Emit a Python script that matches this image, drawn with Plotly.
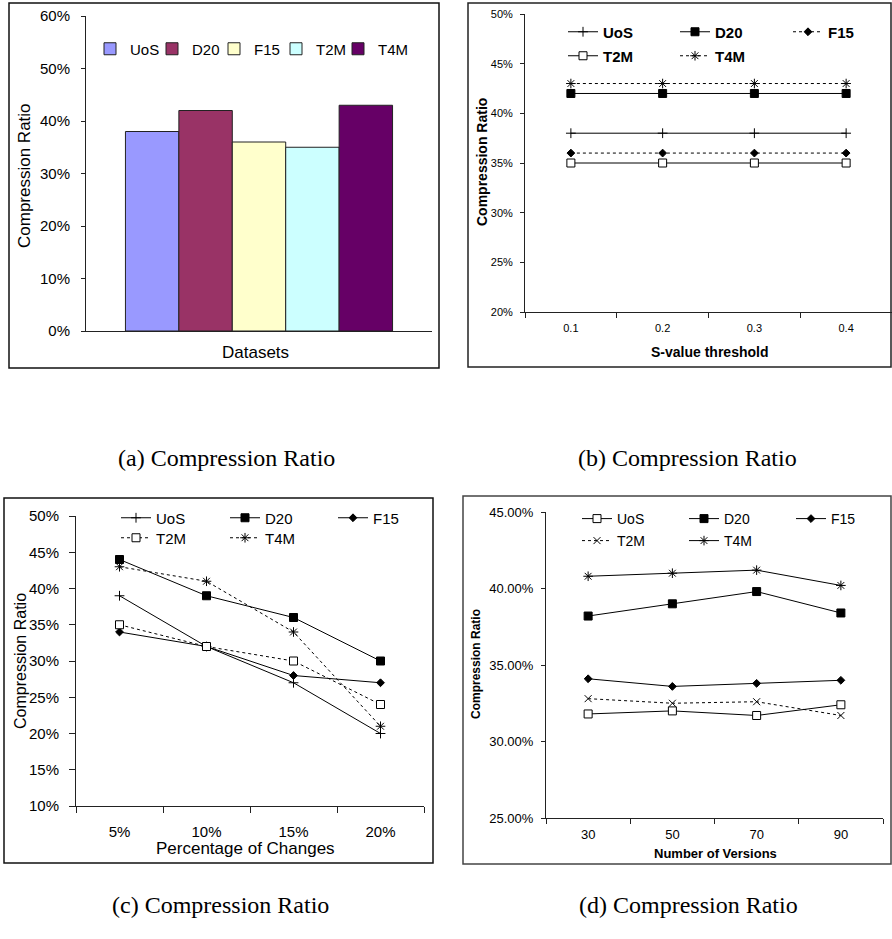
import plotly.graph_objects as go

W, H = 892, 939

# ---------------- data ----------------
series = ["UoS", "D20", "F15", "T2M", "T4M"]

# (a) compression ratio per dataset
ratio_a = [0.38, 0.42, 0.36, 0.35, 0.43]
bar_colors = ["#9999FF", "#993366", "#FFFFCC", "#CCFFFF", "#660066"]

# (b) S-value threshold
thresholds = ["0.1", "0.2", "0.3", "0.4"]
ratio_b = {
    "UoS": [0.38, 0.38, 0.38, 0.38],
    "D20": [0.42, 0.42, 0.42, 0.42],
    "F15": [0.36, 0.36, 0.36, 0.36],
    "T2M": [0.35, 0.35, 0.35, 0.35],
    "T4M": [0.43, 0.43, 0.43, 0.43],
}

# (c) percentage of changes
changes = ["5%", "10%", "15%", "20%"]
ratio_c = {
    "UoS": [0.39, 0.32, 0.27, 0.20],
    "D20": [0.44, 0.39, 0.36, 0.30],
    "F15": [0.34, 0.32, 0.28, 0.27],
    "T2M": [0.35, 0.32, 0.30, 0.24],
    "T4M": [0.43, 0.41, 0.34, 0.21],
}

# (d) number of versions
versions = ["30", "50", "70", "90"]
ratio_d = {
    "UoS": [0.318, 0.320, 0.317, 0.324],
    "D20": [0.382, 0.390, 0.398, 0.384],
    "F15": [0.341, 0.336, 0.338, 0.340],
    "T2M": [0.328, 0.325, 0.326, 0.317],
    "T4M": [0.408, 0.410, 0.412, 0.402],
}

captions = ["(a) Compression Ratio", "(b) Compression Ratio",
            "(c) Compression Ratio", "(d) Compression Ratio"]

# ---------------- helpers ----------------
def px(x):
    return x / W

def py(y):
    return 1 - y / H

SANS = "Liberation Sans, Arial, sans-serif"
SERIF = "Liberation Serif, DejaVu Serif, serif"

# marker styles
M_PLUS = dict(symbol="cross-thin-open", size=7, color="black", line=dict(color="black", width=1))
M_SQF = dict(symbol="square", size=8, color="black", line=dict(color="black", width=1))
M_DIA = dict(symbol="diamond", size=6, color="black", line=dict(color="black", width=1))
M_SQO = dict(symbol="square", size=8, color="white", line=dict(color="black", width=1))
M_AST = dict(symbol="asterisk-open", size=8, color="black", line=dict(color="black", width=1))
M_X = dict(symbol="x-thin-open", size=7, color="black", line=dict(color="black", width=1))

fig = go.Figure()
legend_layouts = {}
leg_counter = [0]

def new_legend(x, y, size, bold=False):
    # x = left edge of the legend item, y = vertical centre of the item (pixels)
    leg_counter[0] += 1
    n = leg_counter[0]
    name = "legend" if n == 1 else f"legend{n}"
    legend_layouts[name] = dict(
        x=px(x), y=py(y), xanchor="left", yanchor="middle",
        bgcolor="rgba(0,0,0,0)", borderwidth=0,
        font=dict(family=SANS, size=size, color="black",
                  weight="bold" if bold else "normal"),
        tracegroupgap=0, itemwidth=30,
    )
    return name

# ---------------- (a) bars ----------------
leg_pos_a = [104, 166, 228, 290, 352]   # left edge of each legend square
for i, s in enumerate(series):
    lg = new_legend(leg_pos_a[i] - 14, 49, 15)
    fig.add_trace(go.Bar(
        x=[0], y=[ratio_a[i]], name=s, legend=lg,
        marker=dict(color=bar_colors[i], line=dict(color="#222", width=1)),
        xaxis="x", yaxis="y", hoverinfo="skip",
    ))

# ---------------- line panels ----------------
def add_lines(xcats, data, styles, xa, ya, legpos, fsize, bold):
    for s in series:
        mk, dash = styles[s]
        lx, ly = legpos[s]
        lg = new_legend(lx - 5, ly, fsize, bold)
        fig.add_trace(go.Scatter(
            x=xcats, y=data[s], name=s, legend=lg, mode="lines+markers",
            line=dict(color="black", width=1, dash=dash), marker=mk,
            xaxis=xa, yaxis=ya, hoverinfo="skip",
        ))

styles_b = {"UoS": (M_PLUS, "solid"), "D20": (M_SQF, "solid"), "F15": (M_DIA, "dot"),
            "T2M": (M_SQO, "solid"), "T4M": (M_AST, "dot")}
leg_b = {"UoS": (568, 32), "D20": (680, 32), "F15": (793, 32),
         "T2M": (568, 56), "T4M": (680, 56)}
add_lines(thresholds, ratio_b, styles_b, "x2", "y2", leg_b, 15, True)

styles_c = {"UoS": (M_PLUS, "solid"), "D20": (M_SQF, "solid"), "F15": (M_DIA, "solid"),
            "T2M": (M_SQO, "dot"), "T4M": (M_AST, "dot")}
leg_c = {"UoS": (121, 518), "D20": (230, 518), "F15": (338, 518),
         "T2M": (121, 538), "T4M": (230, 538)}
add_lines(changes, ratio_c, styles_c, "x3", "y3", leg_c, 15, False)

styles_d = {"UoS": (M_SQO, "solid"), "D20": (M_SQF, "solid"), "F15": (M_DIA, "solid"),
            "T2M": (M_X, "dot"), "T4M": (M_AST, "solid")}
leg_d = {"UoS": (582, 519), "D20": (689, 519), "F15": (796, 519),
         "T2M": (582, 541), "T4M": (689, 541)}
add_lines(versions, ratio_d, styles_d, "x4", "y4", leg_d, 14, False)

# ---------------- axes ----------------
def yax(domain, rng, dtick, fmt, size, ticklen, standoff):
    return dict(domain=domain, range=rng, dtick=dtick, tickformat=fmt,
                showline=True, linecolor="#222", linewidth=1,
                ticks="outside", ticklen=ticklen, tickcolor="#222",
                showgrid=False, zeroline=False,
                tickfont=dict(family=SANS, size=size, color="black"),
                ticklabelstandoff=standoff, fixedrange=True)

def xcat(domain, anchor, size, ticklen=5, standoff=0):
    return dict(domain=domain, anchor=anchor, type="category",
                showline=True, linecolor="#222", linewidth=1,
                ticks="outside", ticklen=ticklen, tickcolor="#222",
                tickson="boundaries", showgrid=False, zeroline=False,
                range=[-0.5, 3.5], ticklabelstandoff=standoff,
                tickfont=dict(family=SANS, size=size, color="black"),
                fixedrange=True)

layout = dict(
    width=W, height=H, margin=dict(l=0, r=0, t=0, b=0, autoexpand=False),
    paper_bgcolor="white", plot_bgcolor="rgba(0,0,0,0)",
    barmode="group", bargap=0.228, bargroupgap=0,
    showlegend=True,
    xaxis=dict(domain=[px(86), px(432)], anchor="y", range=[-0.5, 0.5],
               tickvals=[-0.5, 0.5], ticktext=["", ""], ticks="inside", ticklen=5,
               tickcolor="#222", showline=True, linecolor="#222", linewidth=1,
               showgrid=False, zeroline=False, showticklabels=False, fixedrange=True),
    yaxis=yax([py(331), py(16)], [0, 0.6], 0.1, ".0%", 15, 4, 8),
    xaxis2=xcat([px(525), 1.0], "y2", 11, 5, 6),
    yaxis2=dict(yax([py(312), py(14)], [0.20, 0.50], 0.05, ".0%", 11, 4, 5), anchor="x2"),
    xaxis3=xcat([px(76), px(424)], "y3", 15, 6, 12),
    yaxis3=dict(yax([py(806), py(516)], [0.10, 0.50], 0.05, ".0%", 15, 6, 7), anchor="x3"),
    xaxis4=xcat([px(546), px(883)], "y4", 13, 5, 4),
    yaxis4=dict(yax([py(818), py(512)], [0.25, 0.45], 0.05, ".2%", 13, 4, 5), anchor="x4"),
)
layout["yaxis"]["anchor"] = "x"
layout.update(legend_layouts)

# frames around panels
frames = [(9, 3, 439, 368, "#111"), (468, 3, 891, 367, "#222"),
          (4, 498, 433, 863, "#111"), (463, 496, 891, 864, "#444")]
shapes = [dict(type="rect", xref="paper", yref="paper",
               x0=px(a), y0=py(d), x1=px(c), y1=py(b),
               line=dict(color=col, width=1.5), fillcolor="rgba(0,0,0,0)", layer="below")
          for a, b, c, d, col in frames]
layout["shapes"] = shapes

def ann(text, x, y, size, bold=False, angle=0, family=SANS):
    return dict(text=f"<b>{text}</b>" if bold else text, x=px(x), y=py(y),
                xref="paper", yref="paper", showarrow=False, textangle=angle,
                xanchor="center", yanchor="middle",
                font=dict(family=family, size=size, color="black"))

annotations = [
    ann("Compression Ratio", 24, 176, 17, angle=-90),
    ann("Datasets", 255, 352, 17),
    ann("Compression Ratio", 482, 162, 14, bold=True, angle=-90),
    ann("S-value threshold", 709, 352, 14, bold=True),
    ann("Compression Ratio", 20, 661, 16, angle=-90),
    ann("Percentage of Changes", 245, 848, 17),
    ann("Compression Ratio", 476, 664, 12, bold=True, angle=-90),
    ann("Number of Versions", 715, 853, 13, bold=True),
    ann(captions[0], 226, 458, 24, family=SERIF),
    ann(captions[1], 687, 458, 24, family=SERIF),
    ann(captions[2], 220, 905, 24, family=SERIF),
    ann(captions[3], 688, 905, 24, family=SERIF),
]
layout["annotations"] = annotations

fig.update_layout(**layout)
fig.write_html("out.html", config={"displayModeBar": False},
               post_script="document.body.style.margin='0';document.body.style.overflow='hidden';")
